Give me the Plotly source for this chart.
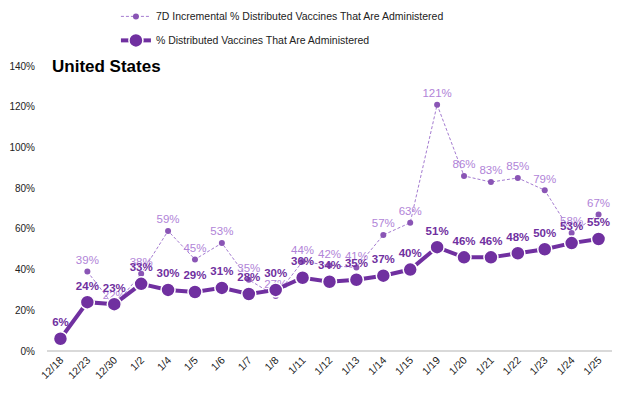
import plotly.graph_objects as go

categories = ["12/18", "12/23", "12/30", "1/2", "1/4", "1/5", "1/6", "1/7", "1/8", "1/11",
              "1/12", "1/13", "1/14", "1/15", "1/19", "1/20", "1/21", "1/22", "1/23", "1/24", "1/25"]
pct_administered = [6, 24, 23, 33, 30, 29, 31, 28, 30, 36, 34, 35, 37, 40, 51, 46, 46, 48, 50, 53, 55]
pct_7d_incremental = [None, 39, 22, 38, 59, 45, 53, 35, 27, 44, 42, 41, 57, 63, 121, 86, 83, 85, 79, 58, 67]
y_ticks = [0, 20, 40, 60, 80, 100, 120, 140]

FONT = "Liberation Sans Narrow, Arial Narrow, Liberation Sans, Arial, sans-serif"

fig = go.Figure()
fig.add_trace(go.Scatter(
    x=categories, y=pct_7d_incremental, mode="lines+markers+text",
    name="7D Incremental % Distributed Vaccines That Are Administered",
    legendgroup="a",
    line=dict(color="#A47BD0", width=1, dash="3px,2px"),
    marker=dict(color="#8A55B5", size=6),
    text=[f"{v}%" if v is not None else "" for v in pct_7d_incremental],
    textposition="top center",
    textfont=dict(family=FONT, size=11.5, color="#B184D8"),
))
fig.add_trace(go.Scatter(
    x=categories, y=pct_administered, mode="lines+markers+text",
    name="% Distributed Vaccines That Are Administered",
    legendgroup="b",
    line=dict(color="#7030A0", width=4),
    marker=dict(color="#7030A0", size=14, line=dict(color="white", width=1.5)),
    text=[f"<b>{v}%</b>" for v in pct_administered],
    textposition="top center",
    textfont=dict(family=FONT, size=11.5, color="#7030A0"),
))

fig.update_layout(
    width=626, height=397,
    margin=dict(l=47, r=14, t=66, b=46, autoexpand=False),
    paper_bgcolor="white", plot_bgcolor="white",
    font=dict(family=FONT, size=11, color="#222222"),
    showlegend=True,
    legend=dict(
        x=0.122, y=1.225, xanchor="left", yanchor="top",
        font=dict(family=FONT, size=10.5, color="#222222"),
        bgcolor="rgba(0,0,0,0)", traceorder="grouped", tracegroupgap=5,
        itemwidth=30,
    ),
    annotations=[dict(
        text="<b>United States</b>", xref="paper", yref="paper",
        x=0.006, y=1.0, xanchor="left", yanchor="middle", showarrow=False,
        font=dict(family=FONT, size=17, color="#000000"),
    )],
)
fig.update_xaxes(
    type="category", range=[-0.5, 20.5], showgrid=False, showline=False,
    tickangle=-45, tickfont=dict(family=FONT, size=10.5, color="#222222"), ticks="",
)
fig.update_yaxes(
    range=[0, 140], tickvals=y_ticks, ticktext=[f"{v}%" for v in y_ticks],
    showgrid=False, zeroline=True, zerolinecolor="#D9D9D9", zerolinewidth=1.5,
    tickfont=dict(family=FONT, size=10, color="#222222"), ticks="",
    ticklabelstandoff=11,
)
fig.write_html("out.html", config={"displayModeBar": False},
               post_script="document.body.style.margin='0px';")
